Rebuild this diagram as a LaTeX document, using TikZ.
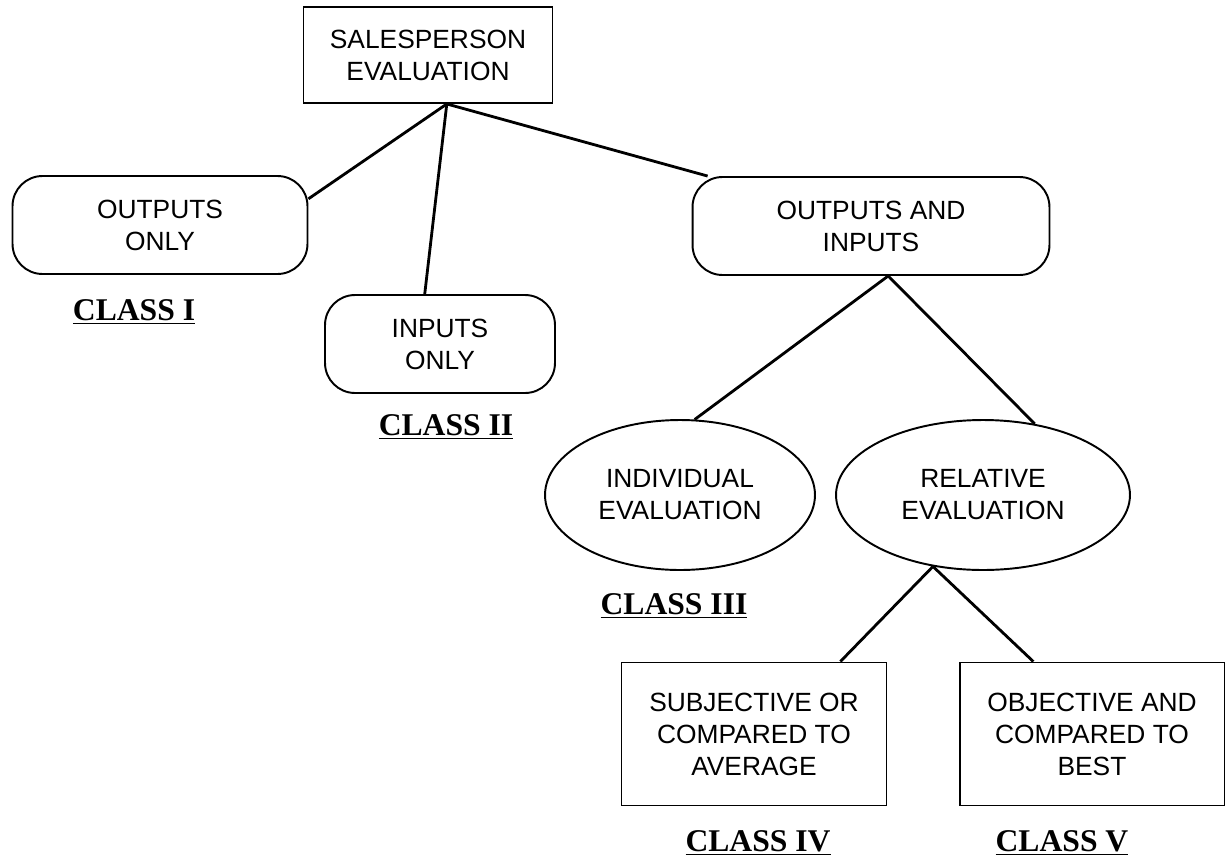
\documentclass[tikz,border=0pt]{standalone}
\usepackage{fontspec}
\setmainfont{Liberation Serif}
\setsansfont{Liberation Sans}
\usetikzlibrary{shapes.geometric}

\newcommand{\boxfont}{\sffamily\fontsize{15pt}{18.2pt}\selectfont}
\newcommand{\classfont}{\rmfamily\bfseries\fontsize{18pt}{20pt}\selectfont}

\tikzstyle{element}=[rectangle, draw, line width=1.1pt, align=center,
                     inner sep=0pt, font=\boxfont]
\tikzstyle{roundelement}=[element, rounded corners=0.6cm]
\tikzstyle{ovalelement}=[ellipse, draw, line width=1.1pt, align=center,
                         inner sep=0pt, font=\boxfont]
\tikzstyle{classlabel}=[inner sep=0pt, font=\classfont]
\tikzstyle{link}=[line width=1.6pt]

\begin{document}
\begin{tikzpicture}[x=0.02cm, y=-0.02cm]
\useasboundingbox (0,0) rectangle (1231,859);

%%%%%%%%%%%%%%%%%%
\node (Eval) at (428, 55) [element, minimum width=4.98cm, minimum height=1.92cm] {SALESPERSON\\EVALUATION};

%%%%%%%%%%%%%%%%%%
\node (OutOnly) at (160, 225) [roundelement, minimum width=5.9cm, minimum height=1.96cm] {OUTPUTS\\ONLY};

\node (InOnly) at (440, 344) [roundelement, minimum width=4.6cm, minimum height=1.96cm] {INPUTS\\ONLY};

\node (OutIn) at (871, 226) [roundelement, minimum width=7.14cm, minimum height=1.96cm] {OUTPUTS AND\\INPUTS};

%%%%%%%%%%%%%%%%%%
\node (Indiv) at (680, 495) [ovalelement, minimum width=5.4cm, minimum height=3cm] {INDIVIDUAL\\EVALUATION};

\node (Relat) at (983, 495) [ovalelement, minimum width=5.88cm, minimum height=3cm] {RELATIVE\\EVALUATION};

%%%%%%%%%%%%%%%%%%
\node (Subj) at (754, 734) [element, minimum width=5.3cm, minimum height=2.86cm] {SUBJECTIVE OR\\COMPARED TO\\AVERAGE};

\node (Obj) at (1092, 734) [element, minimum width=5.3cm, minimum height=2.86cm] {OBJECTIVE AND\\COMPARED TO\\BEST};

%%%%%%%%%%%%%%%%%%
\node (ClassI) at (134, 312) [classlabel] {\underline{CLASS I}};

\node (ClassII) at (446, 427) [classlabel] {\underline{CLASS II}};

\node (ClassIII) at (674, 606) [classlabel] {\underline{CLASS III}};

\node (ClassIV) at (758, 843) [classlabel] {\underline{CLASS IV}};

\node (ClassV) at (1062, 843) [classlabel] {\underline{CLASS V}};

%%%%%%%%%%%%%%%%%%%%
\draw [link] (Eval.-69) to (OutOnly.10);

\draw [link] (Eval.-69) to (InOnly.107);

\draw [link] (Eval.-69) to (OutIn.163);

%%%%%%%%%%%%%%%%%%%%
\draw [link] (OutIn.-71) to (Indiv.79);

\draw [link] (OutIn.-71) to (Relat.54);

%%%%%%%%%%%%%%%%%%%%
\draw [link] (Relat.235) to (Subj.40);

\draw [link] (Relat.235) to (Obj.129);

\end{tikzpicture}
\end{document}
